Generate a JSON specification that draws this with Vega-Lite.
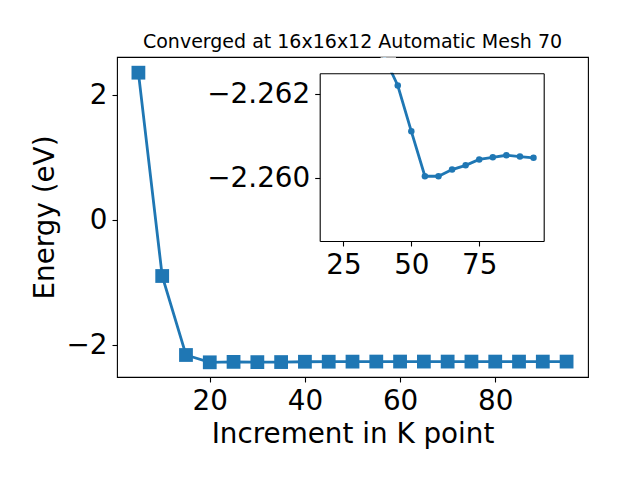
{
  "$schema": "https://vega.github.io/schema/vega-lite/v6.json",
  "padding": {"left": 31, "top": 33, "right": 5, "bottom": 5},
  "background": "white",
  "width": 471,
  "height": 320,
  "datasets": {
    "conv": [
      {"k": 5, "energy": 2.362},
      {"k": 10, "energy": -0.891},
      {"k": 15, "energy": -2.155},
      {"k": 20, "energy": -2.272},
      {"k": 25, "energy": -2.265},
      {"k": 30, "energy": -2.269},
      {"k": 35, "energy": -2.268},
      {"k": 40, "energy": -2.2629},
      {"k": 45, "energy": -2.26221},
      {"k": 50, "energy": -2.26112},
      {"k": 55, "energy": -2.26005},
      {"k": 60, "energy": -2.26005},
      {"k": 65, "energy": -2.26021},
      {"k": 70, "energy": -2.26031},
      {"k": 75, "energy": -2.26045},
      {"k": 80, "energy": -2.2605},
      {"k": 85, "energy": -2.26055},
      {"k": 90, "energy": -2.26052},
      {"k": 95, "energy": -2.26049}
    ],
    "one": [{"n": 1}]
  },
  "config": {
    "font": "DejaVu Sans",
    "view": {"stroke": "black", "strokeWidth": 1.1},
    "axis": {
      "grid": false,
      "domain": false,
      "domainColor": "black",
      "domainWidth": 1.1,
      "tickColor": "black",
      "tickSize": 5,
      "tickWidth": 1.1,
      "labelFont": "DejaVu Sans",
      "labelFontSize": 27.8,
      "labelColor": "black",
      "labelPadding": 5,
      "labelFlush": false,
      "titleFont": "DejaVu Sans",
      "titleFontSize": 27.8,
      "titleFontWeight": "normal",
      "titleColor": "black"
    }
  },
  "title": {
    "text": "Converged at 16x16x12 Automatic Mesh 70",
    "font": "DejaVu Sans",
    "fontSize": 19,
    "fontWeight": "normal",
    "color": "black",
    "baseline": "alphabetic",
    "offset": -10
  },
  "resolve": {
    "scale": {"x": "independent", "y": "independent"},
    "axis": {"x": "independent", "y": "independent"}
  },
  "layer": [
    {
      "layer": [
        {
          "data": {"name": "conv"},
          "transform": [{"filter": "datum.k >= 20"}],
          "mark": {"type": "line", "color": "#1f77b4", "strokeWidth": 2.8, "clip": true},
          "encoding": {
            "x": {
              "field": "k",
              "type": "quantitative",
              "scale": {"domain": [16.25, 98.75], "range": [202.7, 426.7], "nice": false, "zero": false},
              "axis": {"orient": "bottom", "offset": -136, "values": [25, 50, 75], "title": null, "domain": true, "zindex": 1}
            },
            "y": {
              "field": "energy",
              "type": "quantitative",
              "scale": {"domain": [-2.2625, -2.25851], "range": [16.3, 184], "nice": false, "zero": false},
              "axis": {"orient": "left", "offset": -202.7, "values": [-2.262, -2.26], "format": ".3f", "title": null, "domain": true, "zindex": 1}
            }
          }
        },
        {
          "data": {"name": "conv"},
          "transform": [{"filter": "datum.k >= 45"}],
          "mark": {"type": "circle", "opacity": 1, "size": 42, "color": "#1f77b4", "clip": true},
          "encoding": {
            "x": {
              "field": "k",
              "type": "quantitative",
              "scale": {"domain": [16.25, 98.75], "range": [202.7, 426.7], "nice": false, "zero": false},
              "axis": {"orient": "bottom", "offset": -136, "values": [25, 50, 75], "title": null, "domain": true, "zindex": 1}
            },
            "y": {
              "field": "energy",
              "type": "quantitative",
              "scale": {"domain": [-2.2625, -2.25851], "range": [16.3, 184], "nice": false, "zero": false},
              "axis": {"orient": "left", "offset": -202.7, "values": [-2.262, -2.26], "format": ".3f", "title": null, "domain": true, "zindex": 1}
            }
          }
        },
        {
          "data": {"name": "one"},
          "mark": {"type": "point", "shape": "square", "filled": true, "color": "white", "opacity": 1, "size": 237, "clip": true},
          "encoding": {
            "x": {
              "datum": 41.52,
              "type": "quantitative",
              "scale": {"domain": [16.25, 98.75], "range": [202.7, 426.7], "nice": false, "zero": false},
              "axis": {"orient": "bottom", "offset": -136, "values": [25, 50, 75], "title": null, "domain": true, "zindex": 1}
            },
            "y": {
              "datum": -2.2626975,
              "type": "quantitative",
              "scale": {"domain": [-2.2625, -2.25851], "range": [16.3, 184], "nice": false, "zero": false},
              "axis": {"orient": "left", "offset": -202.7, "values": [-2.262, -2.26], "format": ".3f", "title": null, "domain": true, "zindex": 1}
            }
          }
        }
      ]
    },
    {
      "data": {"name": "conv"},
      "transform": [{"filter": "datum.k >= 50"}],
      "mark": {"type": "circle", "opacity": 0, "size": 1, "clip": true},
      "encoding": {
        "x": {
          "field": "k",
          "type": "quantitative",
          "scale": {"domain": [16.25, 98.75], "range": [202.7, 426.7], "nice": false, "zero": false},
          "axis": {"orient": "top", "offset": -16.3, "title": null, "labels": false, "ticks": false, "domain": true, "zindex": 1}
        },
        "y": {
          "field": "energy",
          "type": "quantitative",
          "scale": {"domain": [-2.2625, -2.25851], "range": [16.3, 184], "nice": false, "zero": false},
          "axis": {"orient": "right", "offset": -44.3, "title": null, "labels": false, "ticks": false, "domain": true, "zindex": 1}
        }
      }
    },
    {
      "data": {"name": "conv"},
      "encoding": {
        "x": {
          "field": "k",
          "type": "quantitative",
          "scale": {"domain": [0.5, 99.5], "nice": false, "zero": false},
          "axis": {"orient": "bottom", "values": [20, 40, 60, 80], "title": "Increment in K point", "titlePadding": 6}
        },
        "y": {
          "field": "energy",
          "type": "quantitative",
          "scale": {"domain": [-2.507, 2.613], "nice": false, "zero": false},
          "axis": {"orient": "left", "values": [-2, 0, 2], "title": "Energy (eV)", "titlePadding": 7}
        }
      },
      "layer": [
        {"mark": {"type": "line", "color": "#1f77b4", "strokeWidth": 2.8}},
        {"mark": {"type": "point", "shape": "square", "filled": true, "opacity": 1, "size": 190, "color": "#1f77b4"}}
      ]
    }
  ]
}
